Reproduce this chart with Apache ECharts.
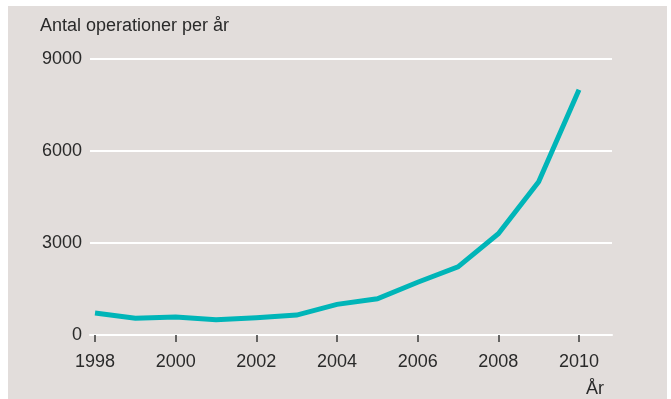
<!DOCTYPE html>
<html>
<head>
<meta charset="utf-8">
<script src="https://cdn.jsdelivr.net/npm/echarts@6/dist/echarts.min.js"></script>
<style>
html,body{margin:0;padding:0;background:#ffffff;}
#chart{width:671px;height:399px;}
</style>
</head>
<body>
<div id="chart"></div>
<script>
const years = [1998,1999,2000,2001,2002,2003,2004,2005,2006,2007,2008,2009,2010];
const operations = [720,550,590,500,565,650,1000,1180,1720,2220,3300,5000,8000];
const xTickYears = [1998,2000,2002,2004,2006,2008,2010];
const yTicks = [0,3000,6000,9000];
const titleText = 'Antal operationer per år';
const xName = 'År';

const FONT = "'Liberation Sans', Arial, sans-serif";
const TXT = '#2a2a2a';

const chart = echarts.init(document.getElementById('chart'), null, {renderer:'canvas'});
chart.setOption({
  animation: false,
  backgroundColor: '#ffffff',
  graphic: [
    {type:'rect', z:-10, shape:{x:8,y:6,width:659,height:400}, style:{fill:'#e2dddb'}},
    {type:'text', left:40, top:17, style:{text:titleText, font:'18px ' + FONT, fill:TXT}},
    {type:'text', left:586, top:380, style:{text:xName, font:'18px ' + FONT, fill:TXT}}
  ],
  grid: {left:90, right:59, top:59, bottom:64},
  xAxis: {
    type:'value',
    min: 1997.876,
    max: 2010.818,
    splitLine:{show:false},
    axisLine:{show:true, lineStyle:{color:'#ffffff', width:2}},
    axisTick:{show:true, customValues:xTickYears, length:7, lineStyle:{color:'#3a3a3a', width:1.5}},
    axisLabel:{show:true, customValues:xTickYears, margin:18, color:TXT, fontSize:18, fontFamily:FONT,
      formatter: v => String(Math.round(v))}
  },
  yAxis: {
    type:'value',
    min: yTicks[0],
    max: yTicks[yTicks.length-1],
    interval: 3000,
    axisLine:{show:false},
    axisTick:{show:false},
    splitLine:{show:true, lineStyle:{color:'#ffffff', width:2}},
    axisLabel:{margin:8, color:TXT, fontSize:18, fontFamily:FONT, formatter: v => String(v)}
  },
  series: [{
    type:'line',
    data: years.map((y,i)=>[y, operations[i]]),
    symbol:'none',
    lineStyle:{color:'#00b5b8', width:5, join:'miter', cap:'butt'},
    z:5
  }]
});
</script>
</body>
</html>
